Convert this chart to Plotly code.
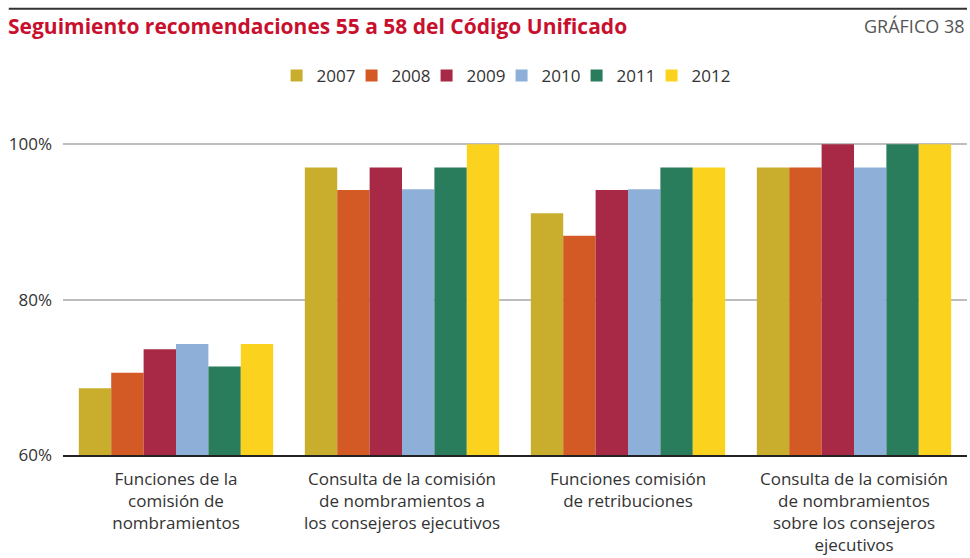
import plotly.graph_objects as go

# Categories (x axis) and yearly series (% of compliance)
categories = [
    "Funciones de la<br>comisión de<br>nombramientos",
    "Consulta de la comisión<br>de nombramientos a<br>los consejeros ejecutivos",
    "Funciones comisión<br>de retribuciones",
    "Consulta de la comisión<br>de nombramientos<br>sobre los consejeros<br>ejecutivos",
]
years = ["2007", "2008", "2009", "2010", "2011", "2012"]
values_2007 = [68.6, 97.0, 91.1, 97.0]
values_2008 = [70.6, 94.1, 88.2, 97.0]
values_2009 = [73.6, 97.0, 94.1, 100.0]
values_2010 = [74.3, 94.2, 94.2, 97.0]
values_2011 = [71.4, 97.0, 97.0, 100.0]
values_2012 = [74.3, 100.0, 97.0, 100.0]
series = [values_2007, values_2008, values_2009, values_2010, values_2011, values_2012]
colors = ["#C9AE2E", "#D35A25", "#A82945", "#8EB0D8", "#2A7D5C", "#FBD31E"]

y_ticks = [60, 80, 100]
y_tick_labels = ["60%", "80%", "100%"]

FONT = "Open Sans"

fig = go.Figure()
for i, (year, vals, col) in enumerate(zip(years, series, colors)):
    # compact legend entries; the last one keeps room for its full label
    entry_w = 46 if i == len(years) - 1 else 30
    fig.add_trace(go.Bar(
        name=year, x=categories, y=vals, marker=dict(color=col, line=dict(width=0)),
        legendwidth=entry_w,
    ))

fig.update_layout(
    width=970, height=558,
    margin=dict(l=63, r=3, t=143, b=103, autoexpand=False),
    paper_bgcolor="white", plot_bgcolor="white",
    barmode="group", bargap=0.14, bargroupgap=0,
    font=dict(family=FONT, color="#333333"),
    showlegend=True,
    legend=dict(
        orientation="h", x=0.494, xanchor="center", y=1.215, yanchor="middle",
        font=dict(size=17, color="#333333"), itemwidth=30,
        traceorder="normal", itemclick=False,
    ),
    xaxis=dict(
        showline=True, linecolor="#222222", linewidth=1.5,
        tickfont=dict(size=17, color="#333333"), ticks="", automargin=False,
        showgrid=False, ticklabelstandoff=8,
    ),
    yaxis=dict(
        range=[60, 100.15], tickvals=y_ticks, ticktext=y_tick_labels,
        tickfont=dict(size=17, color="#333333"),
        showgrid=True, gridcolor="#bdbdbd", gridwidth=2,
        zeroline=False, showline=False, ticks="", automargin=False,
        ticklabelstandoff=10,
    ),
    shapes=[dict(type="line", xref="paper", yref="paper", x0=-0.06, x1=1.0,
                 y0=1.43, y1=1.43, line=dict(color="#333333", width=2))],
    annotations=[
        dict(text="<b>Seguimiento recomendaciones 55 a 58 del Código Unificado</b>",
             xref="paper", yref="paper", x=-0.063, y=1.375, xanchor="left", yanchor="middle",
             showarrow=False, font=dict(size=21, color="#C8102E", family=FONT)),
        dict(text="GRÁFICO 38", xref="paper", yref="paper", x=1.0, y=1.375,
             xanchor="right", yanchor="middle", showarrow=False,
             font=dict(size=18, color="#555555", family=FONT)),
    ],
)

fig.write_html("out.html")
